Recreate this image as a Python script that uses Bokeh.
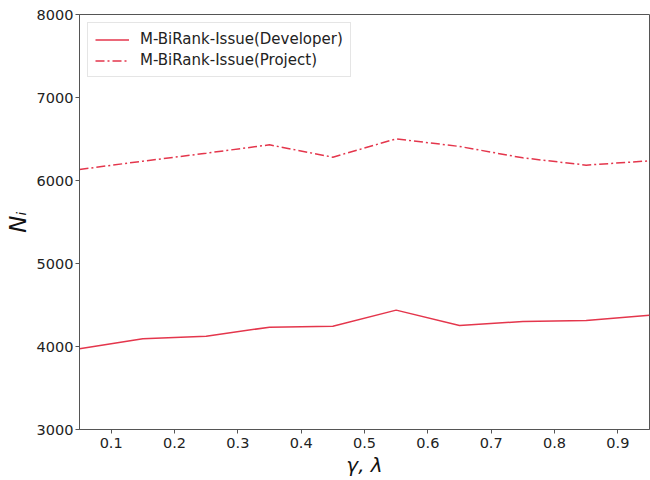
from bokeh.plotting import figure
from bokeh.models import FixedTicker, Legend, LegendItem, Range1d
from bokeh.embed import file_html
from bokeh.resources import INLINE

x_vals = [0.05, 0.15, 0.25, 0.35, 0.45, 0.55, 0.65, 0.75, 0.85, 0.95]
developer = [3972, 4093, 4124, 4233, 4245, 4438, 4253, 4301, 4313, 4377]
project = [6133, 6233, 6329, 6430, 6281, 6502, 6410, 6273, 6185, 6237]
x_ticks = [0.1, 0.2, 0.3, 0.4, 0.5, 0.6, 0.7, 0.8, 0.9]
y_ticks = [3000, 4000, 5000, 6000, 7000, 8000]
series_names = ["M-BiRank-Issue(Developer)", "M-BiRank-Issue(Project)"]

RED = "#e4364c"
FONT = "DejaVu Sans"

p = figure(width=650, height=480, output_backend="svg", toolbar_location=None,
           x_range=Range1d(0.05, 0.95), y_range=Range1d(3000, 8000))
p.min_border_left = 79
p.min_border_right = 1
p.min_border_top = 14
p.min_border_bottom = 51
p.background_fill_color = "white"
p.border_fill_color = "white"
p.outline_line_color = "#555555"
p.outline_line_width = 1
p.xgrid.visible = False
p.ygrid.visible = False

r1 = p.line(x_vals, developer, line_color=RED, line_width=1.5)
r2 = p.line(x_vals, project, line_color=RED, line_width=1.5, line_dash="9 3 2 3")

for ax in (p.xaxis[0], p.yaxis[0]):
    ax.major_label_text_font = FONT
    ax.major_label_text_font_size = "14.5px"
    ax.major_label_text_color = "#222222"
    ax.axis_line_color = "#555555"
    ax.major_tick_line_color = "#555555"
    ax.major_tick_out = 4
    ax.major_tick_in = 0
    ax.minor_tick_line_color = None
    ax.axis_label_text_font = FONT
    ax.axis_label_text_font_style = "italic"
    ax.axis_label_text_color = "#111111"

p.xaxis.ticker = FixedTicker(ticks=x_ticks)
p.yaxis.ticker = FixedTicker(ticks=y_ticks)
p.xaxis.axis_label = "γ, λ"
p.xaxis.axis_label_text_font_size = "20px"
p.xaxis.axis_label_standoff = 2
p.xaxis.major_label_standoff = 4
p.yaxis.axis_label = "Nᵢ"
p.yaxis.axis_label_text_font_size = "23px"
p.yaxis.axis_label_standoff = 3
p.yaxis.major_label_standoff = 2

legend = Legend(items=[LegendItem(label=series_names[0], renderers=[r1]),
                       LegendItem(label=series_names[1], renderers=[r2])],
                location="top_left")
legend.label_text_font = FONT
legend.label_text_font_size = "15px"
legend.label_text_color = "#222222"
legend.border_line_color = "#cccccc"
legend.border_line_width = 1
legend.background_fill_alpha = 0.9
legend.glyph_width = 34
legend.glyph_height = 17
legend.label_height = 17
legend.spacing = 3
legend.padding = 7
legend.margin = 8
legend.label_standoff = 11
p.add_layout(legend)

open("out.html", "w").write(file_html(p, INLINE))
